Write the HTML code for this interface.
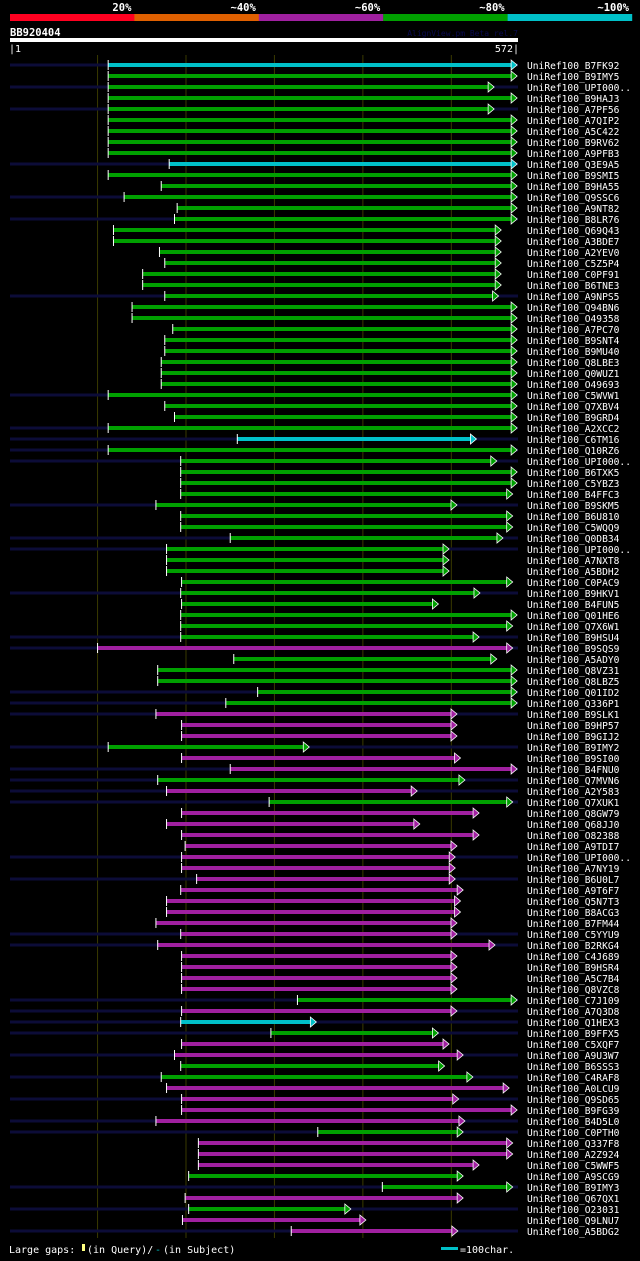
<!DOCTYPE html>
<html><head><meta charset="utf-8"><style>
body{margin:0;background:#000;width:640px;height:1257px;overflow:hidden;font-family:"DejaVu Sans Mono","Liberation Mono",monospace;}
svg text{font-family:"DejaVu Sans Mono","Liberation Mono",monospace;}
</style></head><body>
<svg id="chart" width="640" height="1257" xmlns="http://www.w3.org/2000/svg">
<g id="hdr"></g>
<g id="grid"></g>
<g id="rows"></g>
<g>
<text x="9" y="1253" fill="#fff" font-size="10">Large gaps:</text>
<rect x="82" y="1244" width="3" height="7" fill="#ffff80"/>
<text x="87" y="1253" fill="#fff" font-size="10">(in Query)/</text>
<text x="155" y="1253" fill="#00c0c0" font-size="10">-</text>
<text x="163" y="1253" fill="#fff" font-size="10">(in Subject)</text>
<rect x="441" y="1247" width="17" height="3" fill="#00c0c8"/>
<text x="460" y="1253" fill="#fff" font-size="10">=100char.</text>
</g>
</svg>
<script>
const seqLen = 572;
const names = ["B7FK92","B9IMY5","UPI000..","B9HAJ3","A7PF56","A7QIP2","A5C422","B9RV62","A9PFB3","Q3E9A5","B9SMI5","B9HA55","Q9SSC6","A9NT82","B8LR76","Q69Q43","A3BDE7","A2YEV0","C5Z5P4","C0PF91","B6TNE3","A9NPS5","Q94BN6","O49358","A7PC70","B9SNT4","B9MU40","Q8LBE3","Q0WUZ1","O49693","C5WVW1","Q7XBV4","B9GRD4","A2XCC2","C6TM16","Q10RZ6","UPI000..","B6TXK5","C5YBZ3","B4FFC3","B9SKM5","B6U810","C5WQQ9","Q0DB34","UPI000..","A7NXT8","A5BDH2","C0PAC9","B9HKV1","B4FUN5","Q01HE6","Q7X6W1","B9HSU4","B9SQS9","A5ADY0","Q8VZ31","Q8LBZ5","Q01ID2","Q336P1","B9SLK1","B9HP57","B9GIJ2","B9IMY2","B9SI00","B4FNU0","Q7MVN6","A2Y583","Q7XUK1","Q8GW79","Q68JJ0","O82388","A9TDI7","UPI000..","A7NY19","B6U0L7","A9T6F7","Q5N7T3","B8ACG3","B7FM44","C5YYU9","B2RKG4","C4J689","B9HSR4","A5C7B4","Q8VZC8","C7J109","A7Q3D8","Q1HEX3","B9FFX5","C5XQF7","A9U3W7","B6SSS3","C4RAF8","A0LCU9","Q9SD65","B9FG39","B4D5L0","C0PTH0","Q337F8","A2Z924","C5WWF5","A9SCG9","B9IMY3","Q67QX1","O23031","Q9LNU7","A5BDG2"];
const starts = [112,112,112,112,112,112,112,112,112,181,112,172,130,190,187,118,118,170,176,151,151,176,139,139,185,176,176,172,172,172,112,176,187,112,258,112,194,194,194,194,166,194,194,250,178,178,178,195,194,195,194,194,194,100,254,168,168,281,245,166,195,195,112,195,250,168,178,294,195,178,195,199,195,195,212,194,178,178,166,194,168,195,195,195,195,326,195,194,296,195,187,194,172,178,195,195,166,349,214,214,214,203,422,199,203,196,319];
const ends = [571,571,545,571,545,571,571,571,571,571,571,571,571,571,571,553,553,553,553,553,553,550,571,571,571,571,571,571,571,571,571,571,571,571,525,571,548,571,571,566,503,566,566,555,494,494,494,566,529,482,571,566,528,566,548,571,571,571,571,503,503,503,336,507,571,512,458,566,528,461,528,503,501,501,501,510,507,507,503,503,546,503,503,503,503,571,503,344,482,494,510,489,521,562,505,571,512,510,566,566,528,510,566,510,383,400,504];
const identity = [95,75,75,75,75,75,75,75,75,95,75,75,75,75,75,75,75,75,75,75,75,75,75,75,75,75,75,75,75,75,75,75,75,75,95,75,75,75,75,75,75,75,75,75,75,75,75,75,75,75,75,75,75,55,75,75,75,75,75,55,55,55,75,55,55,75,55,75,55,55,55,55,55,55,55,55,55,55,55,55,55,55,55,55,55,75,55,95,75,55,55,75,75,55,55,55,55,75,55,55,55,75,75,55,75,55,55];
const hasSubjectExt = [1,0,1,0,1,0,0,0,0,1,0,0,1,0,1,0,0,0,0,0,0,1,0,0,0,0,0,0,0,0,1,0,0,1,1,1,1,0,0,0,1,0,0,1,1,0,0,0,1,0,0,0,1,1,0,0,0,1,1,1,0,0,1,0,1,1,1,1,0,0,0,0,1,0,1,0,0,0,0,1,1,0,0,0,0,1,1,1,1,0,1,0,1,0,1,0,1,1,0,0,0,0,1,0,1,0,1];
const gridTicks = [100,200,300,400,500];
const pctLabels = ["20%","~40%","~60%","~80%","~100%"];
const pctColors = ["#ff0020","#e06000","#a020a0","#00a000","#00c0c8"];

const NS="http://www.w3.org/2000/svg";
const X0=10, X1=515;
const xs=r=>X0+(r-1)/(seqLen-1)*(X1-X0);
const rowY=i=>65+i*11;
function mk(tag,attrs,parent){const e=document.createElementNS(NS,tag);for(const k in attrs)e.setAttribute(k,attrs[k]);parent.appendChild(e);return e;}
function col(p){return p>=90?pctColors[4]:p>=70?pctColors[3]:p>=50?pctColors[2]:p>=30?pctColors[1]:pctColors[0];}

const hdr=document.getElementById('hdr');
pctColors.forEach((c,i)=>{
  const r=mk('rect',{x:10+i*124.4,y:14,width:124.6,height:7,fill:c},hdr);
  
  
  const t=mk('text',{x:10+(i+1)*124.4-3,y:11,fill:'#fff','font-size':'10.5','font-weight':'bold','text-anchor':'end'},hdr);
  t.textContent=pctLabels[i];
  
  
});
let t=mk('text',{x:10,y:36,fill:'#fff','font-size':'10.5','font-weight':'bold'},hdr);t.textContent='BB920404';


t=mk('text',{x:518,y:36,fill:'#0a0a50','font-size':'8','text-anchor':'end'},hdr);t.textContent='AlignView.pm Beta rel.7';


let qb=mk('rect',{x:10,y:38,width:508,height:4,fill:'#fff'},hdr);


t=mk('text',{x:9,y:52,fill:'#fff','font-size':'10'},hdr);t.textContent='|1';


t=mk('text',{x:519,y:52,fill:'#fff','font-size':'10','text-anchor':'end'},hdr);t.textContent='572|';



const grid=document.getElementById('grid');
gridTicks.forEach(v=>{
  const l=mk('line',{x1:xs(v),x2:xs(v),y1:55,y2:1238,stroke:'#3a3a00','stroke-width':1},grid);
  
  
});

const rows=document.getElementById('rows');
names.forEach((n,i)=>{
  const g=mk('g',{},rows);
  
  
  const y=rowY(i);
  if(hasSubjectExt[i]){
    const d=mk('rect',{x:10,y:y-1.5,width:508,height:3,fill:'#0c0c38'},g);
    
    
  }
  const c=col(identity[i]);
  const a=xs(starts[i]), b=xs(ends[i]);
  const bar=mk('rect',{x:a,y:y-2,width:b-a,height:4,fill:c},g);
  
  
  const tk=mk('line',{x1:a,x2:a,y1:y-5,y2:y+5,stroke:'#fff','stroke-width':1},g);
  
  
  const ar=mk('path',{d:`M${b-3},${y-5} L${b+3},${y} L${b-3},${y+5} Z`,fill:c,stroke:'#fff','stroke-width':0.8},g);
  
  
  const lb=mk('text',{x:527,y:y+4,fill:'#fff','font-size':'9.6'},g);
  lb.textContent='UniRef100_'+n;
  
  
});
</script>
</body></html>
